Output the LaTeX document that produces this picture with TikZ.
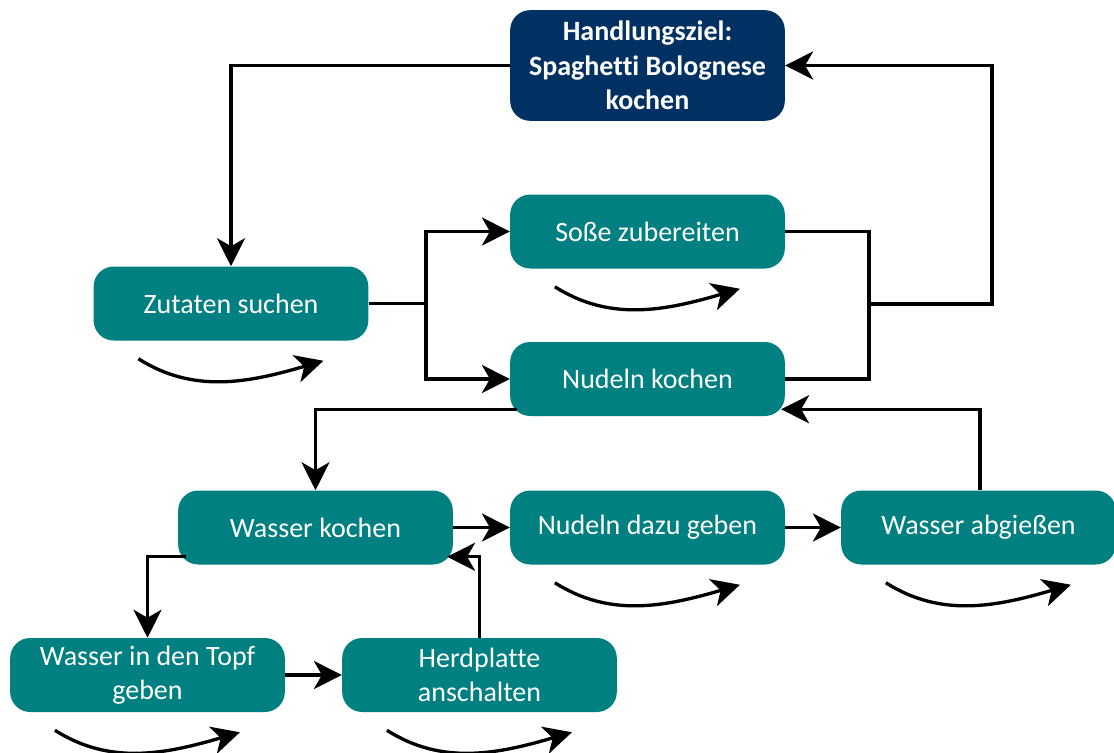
\documentclass[tikz,border=0pt]{standalone}
\usepackage{fontspec}
\setmainfont{Carlito}[Ligatures=NoCommon]
\usetikzlibrary{arrows.meta,calc}
\definecolor{teal1}{HTML}{008080}
\definecolor{navy1}{HTML}{003162}
\newcommand\looparr[1]{\draw[arr] ($(#1.south west)+(45,18)$) .. controls +(55,35) and +(-75,22) .. ($(#1.south west)+(230,20)$);}
\begin{document}
\begin{tikzpicture}[x=0.75pt,y=-0.75pt,
 box/.style={draw=none, fill=teal1, text=white, rounded corners=15pt, minimum width=206pt, minimum height=55.5pt, align=center, inner sep=0pt, font=\fontsize{21}{25.5}\selectfont},
 goal/.style={box, fill=navy1, minimum height=83pt, font=\fontsize{21}{26}\selectfont\bfseries},
 arr/.style={line width=2.5pt, -{Stealth[length=21pt,width=21pt,inset=6pt]}},
 ln/.style={line width=2.5pt}]
\useasboundingbox (0,0) rectangle (1114,753);
\node[goal] (H) at (647.5,65.5) {Handlungsziel:\\Spaghetti Bolognese\\kochen};
\node[box] (S) at (647.5,231.5) {Soße zubereiten};
\node[box] (Z) at (231,303.5) {Zutaten suchen};
\node[box] (N) at (647.5,379) {Nudeln kochen};
\node[box] (WK) at (315.5,527.5) {Wasser kochen};
\node[box] (ND) at (647.5,527.5) {Nudeln dazu geben};
\node[box] (WA) at (978.5,527.5) {Wasser abgießen};
\node[box] (T) at (147.5,675) {Wasser in den Topf\\geben};
\node[box] (HP) at (479.5,675) {Herdplatte\\anschalten};
% connectors
\draw[arr] (H.west) -| (Z.north);
\coordinate (j1) at (426,303.5);
\draw[ln] (Z.east) -- (j1);
\draw[arr] (j1) |- (S.west);
\draw[arr] (j1) |- (N.west);
\coordinate (j2) at (869,304);
\coordinate (j3) at (992,304);
\draw[ln] (S.east) -| (j2) |- (N.east);
\draw[arr] (j2) -- (j3) |- (H.east);
\coordinate (a1) at ($(N.south west)+(7,-7)$);
\draw[arr] (a1) -| (WK.north);
\draw[arr] (WK.east) -- (ND.west);
\draw[arr] (ND.east) -- (WA.west);
\coordinate (a2) at ($(N.south east)+(-4,-7)$);
\coordinate (a3) at ($(WA.north)+(1.5,0)$);
\draw[arr] (a3) |- (a2);
\coordinate (a4) at ($(WK.south west)+(8,-8)$);
\draw[arr] (a4) -| (T.north);
\draw[arr] (T.east) -- (HP.west);
\coordinate (a5) at ($(WK.south east)+(-6,-8)$);
\draw[arr] (HP.north) |- (a5);
% loop arrows
\looparr{Z}
\looparr{S}
\looparr{ND}
\looparr{WA}
\looparr{T}
\looparr{HP}
\end{tikzpicture}
\end{document}
